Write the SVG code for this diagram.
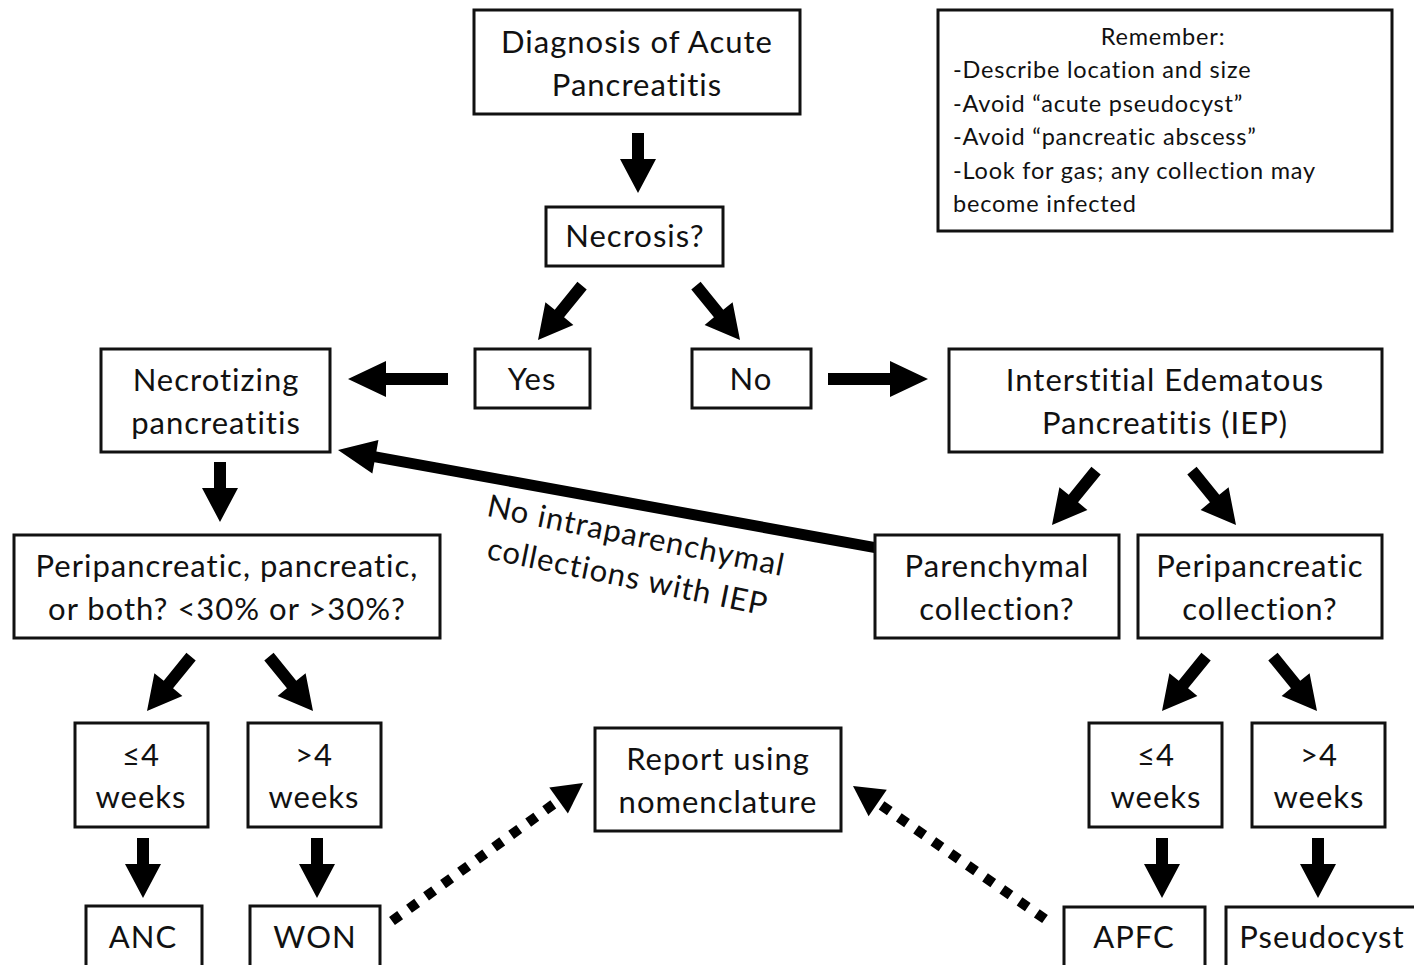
<svg xmlns="http://www.w3.org/2000/svg" xmlns:xlink="http://www.w3.org/1999/xlink" width="1414" height="965" viewBox="0 0 1414 965">
  <style>
    .box { fill: #fff; stroke: #111; stroke-width: 3; }
    .t { font-family: Lato, "Open Sans", sans-serif; font-size: 31px; letter-spacing: 1px; fill: #111; text-anchor: middle; }
    .note { font-family: Lato, "Open Sans", sans-serif; font-size: 23.5px; letter-spacing: 0.8px; fill: #111; }
    .arr { fill: #000; }
    .dot { stroke: #000; stroke-width: 10; stroke-dasharray: 10 11; fill: none; }
  </style>
  <defs>
    <!-- block arrows pointing down, tip at the origin -->
    <path id="a60" d="M-6,-60 H6 V-34 H18 L0,0 L-18,-34 H-6 Z"/>
    <path id="a70" d="M-6,-70 H6 V-34 H18 L0,0 L-18,-34 H-6 Z"/>
    <path id="a100" d="M-6,-100 H6 V-38 H18 L0,0 L-18,-38 H-6 Z"/>
    <path id="a546" d="M-5.5,-546 H5.5 V-38 H17 L0,0 L-17,-38 H-5.5 Z"/>
  </defs>

  <!-- connectors -->
  <g id="connectors" class="arr">
    <use xlink:href="#a60" transform="translate(638,193)"/>
    <use xlink:href="#a70" transform="translate(538,340) rotate(39)"/>
    <use xlink:href="#a70" transform="translate(740,340) rotate(-39)"/>
    <use xlink:href="#a100" transform="translate(348,379) rotate(90)"/>
    <use xlink:href="#a100" transform="translate(928,379) rotate(-90)"/>
    <use xlink:href="#a60" transform="translate(220,522)"/>
    <use xlink:href="#a70" transform="translate(1052,525) rotate(39)"/>
    <use xlink:href="#a70" transform="translate(1236,525) rotate(-39)"/>
    <use xlink:href="#a546" transform="translate(338,450) rotate(100.3)"/>
    <use xlink:href="#a70" transform="translate(147,711) rotate(39)"/>
    <use xlink:href="#a70" transform="translate(313,711) rotate(-39)"/>
    <use xlink:href="#a70" transform="translate(1162,711) rotate(39)"/>
    <use xlink:href="#a70" transform="translate(1317,711) rotate(-39)"/>
    <use xlink:href="#a60" transform="translate(143,898)"/>
    <use xlink:href="#a60" transform="translate(317,898)"/>
    <use xlink:href="#a60" transform="translate(1162,898)"/>
    <use xlink:href="#a60" transform="translate(1318,898)"/>
    <!-- dotted links to the report box -->
    <line class="dot" x1="392" y1="921" x2="558" y2="801"/>
    <polygon points="583,783 567.9,813.5 549.3,787.5"/>
    <line class="dot" x1="1045" y1="919" x2="878" y2="803"/>
    <polygon points="853,786 886.8,789.8 868.6,816.2"/>
    <text class="t" transform="translate(634,546) rotate(11.5)"><tspan x="0" y="0">No intraparenchymal</tspan><tspan x="0" y="42">collections with IEP</tspan></text>
  </g>

  <g id="diagnosis">
    <rect class="box" x="474" y="10" width="326" height="104"/>
    <text class="t"><tspan x="637" y="53">Diagnosis of Acute</tspan><tspan x="637" y="96">Pancreatitis</tspan></text>
  </g>
  <g id="remember">
    <rect class="box" x="938" y="10" width="454" height="221"/>
    <text class="note" x="1163" y="45" text-anchor="middle">Remember:</text>
    <text class="note"><tspan x="953" y="78">-Describe location and size</tspan><tspan x="953" y="112">-Avoid “acute pseudocyst”</tspan><tspan x="953" y="145">-Avoid “pancreatic abscess”</tspan><tspan x="953" y="179">-Look for gas; any collection may</tspan><tspan x="953" y="212">become infected</tspan></text>
  </g>
  <g id="necrosis">
    <rect class="box" x="546" y="207" width="177" height="59"/>
    <text class="t" x="635" y="247">Necrosis?</text>
  </g>
  <g id="yes">
    <rect class="box" x="475" y="349" width="115" height="59"/>
    <text class="t" x="532" y="390">Yes</text>
  </g>
  <g id="no">
    <rect class="box" x="692" y="349" width="119" height="59"/>
    <text class="t" x="751" y="390">No</text>
  </g>
  <g id="necrotizing">
    <rect class="box" x="101" y="349" width="229" height="103"/>
    <text class="t"><tspan x="216" y="391">Necrotizing</tspan><tspan x="216" y="434">pancreatitis</tspan></text>
  </g>
  <g id="iep">
    <rect class="box" x="949" y="349" width="433" height="103"/>
    <text class="t"><tspan x="1165" y="391">Interstitial Edematous</tspan><tspan x="1165" y="434">Pancreatitis (IEP)</tspan></text>
  </g>
  <g id="extent">
    <rect class="box" x="14" y="535" width="426" height="103"/>
    <text class="t"><tspan x="227" y="577">Peripancreatic, pancreatic,</tspan><tspan x="227" y="620">or both? &lt;30% or &gt;30%?</tspan></text>
  </g>
  <g id="parenchymal">
    <rect class="box" x="875" y="535" width="244" height="103"/>
    <text class="t"><tspan x="997" y="577">Parenchymal</tspan><tspan x="997" y="620">collection?</tspan></text>
  </g>
  <g id="peripancreatic">
    <rect class="box" x="1138" y="535" width="244" height="103"/>
    <text class="t"><tspan x="1260" y="577">Peripancreatic</tspan><tspan x="1260" y="620">collection?</tspan></text>
  </g>
  <g id="nec-early">
    <rect class="box" x="75" y="723" width="133" height="104"/>
    <text class="t"><tspan x="141" y="766">≤4</tspan><tspan x="141" y="808">weeks</tspan></text>
  </g>
  <g id="nec-late">
    <rect class="box" x="248" y="723" width="133" height="104"/>
    <text class="t"><tspan x="314" y="766">&gt;4</tspan><tspan x="314" y="808">weeks</tspan></text>
  </g>
  <g id="report">
    <rect class="box" x="595" y="728" width="246" height="103"/>
    <text class="t"><tspan x="718" y="770">Report using</tspan><tspan x="718" y="813">nomenclature</tspan></text>
  </g>
  <g id="iep-early">
    <rect class="box" x="1089" y="723" width="133" height="104"/>
    <text class="t"><tspan x="1156" y="766">≤4</tspan><tspan x="1156" y="808">weeks</tspan></text>
  </g>
  <g id="iep-late">
    <rect class="box" x="1252" y="723" width="133" height="104"/>
    <text class="t"><tspan x="1319" y="766">&gt;4</tspan><tspan x="1319" y="808">weeks</tspan></text>
  </g>
  <g id="anc">
    <rect class="box" x="86" y="906" width="116" height="70"/>
    <text class="t" x="143" y="948">ANC</text>
  </g>
  <g id="won">
    <rect class="box" x="250" y="906" width="130" height="70"/>
    <text class="t" x="315" y="948">WON</text>
  </g>
  <g id="apfc">
    <rect class="box" x="1064" y="907" width="141" height="70"/>
    <text class="t" x="1134" y="948">APFC</text>
  </g>
  <g id="pseudocyst">
    <rect class="box" x="1226" y="907" width="200" height="70"/>
    <text class="t" x="1322" y="948">Pseudocyst</text>
  </g>
</svg>
